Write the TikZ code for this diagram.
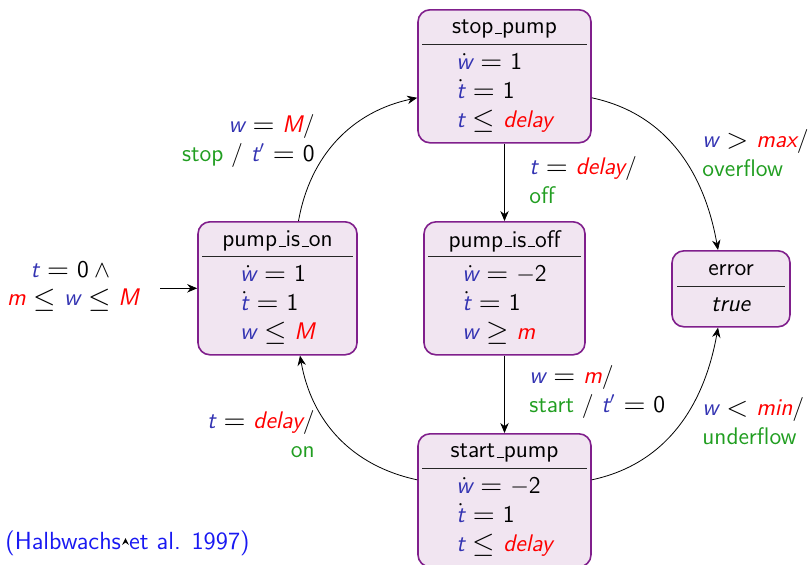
\documentclass[tikz,border=0pt]{standalone}
\usetikzlibrary{calc,arrows.meta}

\definecolor{varblue}{rgb}{0.2,0.2,0.7}
\definecolor{actgreen}{rgb}{0.13,0.62,0.13}
\definecolor{parred}{rgb}{1,0,0}
\definecolor{statefill}{rgb}{0.945,0.9,0.945}
\definecolor{stateline}{rgb}{0.5,0.12,0.55}
\definecolor{citeblue}{rgb}{0.1,0.1,0.95}

\thickmuskip=6mu plus 2mu

% variables (sans italic, blue), parameters (sans italic, red), actions (green)
\newcommand\vv[1]{\textcolor{varblue}{\textit{#1}}}
\newcommand\pp[1]{\textcolor{parred}{\textit{#1}}}
\newcommand\actn[1]{\textcolor{actgreen}{#1}}
\newcommand\nm[1]{\textup{#1}}
\newcommand\dv[1]{\dot{\vv{#1}}}
\newcommand\tpr{\textcolor{varblue}{\textit{t}'}}
% slightly enlarged relation symbols
\newcommand\bigrel[1]{\mathrel{\raisebox{-0.05em}{\scalebox{1.2}{$#1$}}}}
\newcommand\req{\bigrel{=}}
\newcommand\rle{\bigrel{\leq}}
\newcommand\rge{\bigrel{\geq}}
\newcommand\rlt{\bigrel{<}}
\newcommand\rgt{\bigrel{>}}
% short underscore as in the classic sans font
\newcommand\usc{\leavevmode\kern.06em\vbox{\hrule width .3em}}

\tikzset{
  statebox/.style={draw=stateline, fill=statefill, line width=0.8pt,
    rounded corners=6pt, inner sep=0pt},
  sepline/.style={line width=0.5pt, black!85},
  titletext/.style={inner sep=0pt},
  bodytext/.style={inner sep=0pt, align=left},
  lbl/.style={inner sep=0pt},
  edge/.style={thin, -{Stealth[length=5pt,width=4.2pt,inset=1.6pt]}},
}

% name, centre x, top y, width, title, body lines
\newcommand\statebox[6]{%
  \node[statebox, minimum width=#4*0.5pt, minimum height=66.5pt, anchor=north] (#1) at (#2,#3) {};
  \draw[sepline] ($(#1.north west)+(5,35)$) -- ($(#1.north east)+(-5,35)$);
  \node[titletext] (#1-title) at ($(#1.north)+(0,20)$) {#5};
  \node[bodytext] (#1-body) at ($(#1.north)+(0,84)$) {#6};
}

\begin{document}
\begin{tikzpicture}[x=0.5pt, y=-0.5pt, font=\fontsize{12}{14.4}\selectfont\sffamily]
\useasboundingbox (0,0) rectangle (812,564);

% locations
\statebox{stop}{504.5}{9}{173}{stop\usc pump}{%
  $\dv{w} \req \nm{1}$\\ $\dv{t} \req \nm{1}$\\ $\vv{t} \rle \pp{delay}$}
\statebox{on}{277.5}{221}{159}{pump\usc is\usc on}{%
  $\dv{w} \req \nm{1}$\\ $\dv{t} \req \nm{1}$\\ $\vv{w} \rle \pp{M}$}
\statebox{off}{504.5}{221}{161}{pump\usc is\usc off}{%
  $\dv{w} \req -\nm{2}$\\ $\dv{t} \req \nm{1}$\\ $\vv{w} \rge \pp{m}$}
\statebox{start}{504.5}{433}{173}{start\usc pump}{%
  $\dv{w} \req -\nm{2}$\\ $\dv{t} \req \nm{1}$\\ $\vv{t} \rle \pp{delay}$}

% error location
\node[statebox, minimum width=59pt, minimum height=38pt, anchor=north] (err) at (731,250) {};
\draw[sepline] ($(err.north west)+(6,36)$) -- ($(err.north east)+(-6,36)$);
\node[titletext] (err-title) at ($(err.north)+(0,20)$) {error};
\node[titletext] (err-body) at ($(err.north)+(0,55)$) {\textit{true}};

% initial condition
\node[lbl, align=center] (init-lbl) at (73,286) {$\vv{t} \req \nm{0} \wedge{}$\\ $\pp{m} \rle \vv{w} \rle \pp{M}$};
\coordinate (init) at ($(on.west)+(-37,0)$);
\draw[edge] (init) -- (on.west);

% transitions
\draw[edge] ([xshift=10.5pt]on.north) to[out=80, in=192] ([yshift=-10.75pt]stop.west);
\draw[edge] (stop.south) -- (off.north);
\draw[edge] (off.south) -- (start.north);
\draw[edge] ([yshift=10.25pt]start.west) to[out=168, in=-80] ([xshift=11.25pt]on.south);
\draw[edge] ([yshift=-10.75pt]stop.east) to[out=-12, in=100] ([xshift=-6.5pt]err.north);
\draw[edge] ([yshift=10.25pt]start.east) to[out=12, in=-100] ([xshift=-6.5pt]err.south);

% transition labels
\node[lbl, align=right, anchor=east] (l-stop) at (315,141)
  {$\vv{w} \req \pp{M}$/\\ \actn{stop} / $\tpr \req \nm{0}$};
\node[lbl, align=left, anchor=west] (l-off) at (529,180)
  {$\vv{t} \req \pp{delay}$/\\ \actn{off}};
\node[lbl, align=left, anchor=west] (l-start) at (529,392)
  {$\vv{w} \req \pp{m}$/\\ \actn{start} / $\tpr \req \nm{0}$};
\node[lbl, align=right, anchor=east] (l-on) at (315,434)
  {$\vv{t} \req \pp{delay}$/\\ \actn{on}};
\node[lbl, align=left, anchor=west] (l-over) at (702,153)
  {$\vv{w} \rgt \pp{max}$/\\ \actn{overflow}};
\node[lbl, align=left, anchor=west] (l-under) at (702,421)
  {$\vv{w} \rlt \pp{min}$/\\ \actn{underflow}};

% reference
\node[lbl, anchor=west, text=citeblue, font=\fontsize{12.4}{15}\selectfont\sffamily] (cite) at (5,543) {(Halbwachs et al. 1997)};
\fill (125.5,538) -- (122,545) -- (125.5,542.5) -- (129,545) -- cycle;
\end{tikzpicture}
\end{document}
